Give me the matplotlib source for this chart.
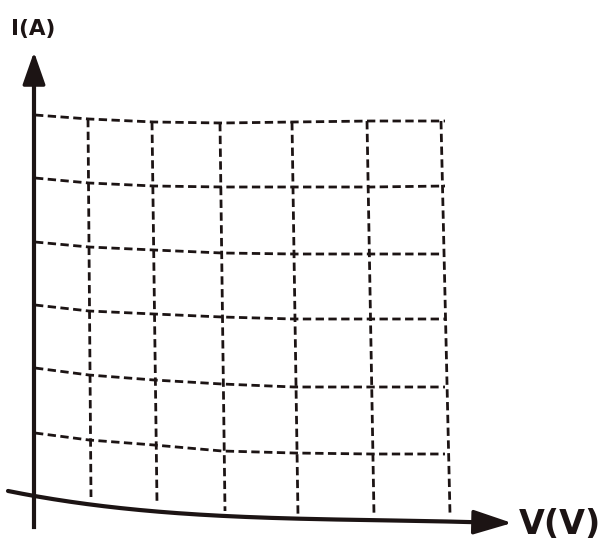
import numpy as np
import matplotlib
matplotlib.use('Agg')
import matplotlib.pyplot as plt

# picture-space coords (x right, y down)
row_x = [35, 89, 154, 222, 294, 371, 445]
row_y = [
    [115, 119, 122, 123, 122, 121, 121],
    [178, 183, 186, 187, 187, 187, 186],
    [242, 247, 250, 253, 254, 254, 254],
    [305, 311, 314, 317, 319, 319, 319],
    [368, 375, 380, 384, 387, 387, 387],
    [433, 440, 445, 451, 453, 454, 454],
]
col_x_top = [88, 152, 220, 292, 367, 441]
col_x_bot = [91, 157, 225, 298, 374, 450]
col_y_bot = [497, 503, 511, 516, 515, 514]

curve_x = [8, 35, 91, 157, 225, 298, 374, 450, 512]
curve_y = [490, 497, 505, 512, 515, 518, 521, 522, 523]

ink = '#1c1414'

fig = plt.figure(figsize=(6.07, 5.41), dpi=100)
ax = fig.add_axes([0, 0, 1, 1])
ax.set_xlim(0, 607)
ax.set_ylim(541, 0)
ax.axis('off')

dash = (0, (3, 1.6))

# horizontal dashed lines
for ys in row_y:
    ax.plot(row_x, ys, color=ink, lw=2.0, linestyle=dash)

# vertical dashed lines
for xt, xb, yb in zip(col_x_top, col_x_bot, col_y_bot):
    yt = np.interp(xt, row_x, row_y[0])
    ax.plot([xt, xb], [yt, yb], color=ink, lw=2.0, linestyle=dash)

# bottom curve = V axis (smoothed through the read points)
coef = np.polyfit(curve_x, curve_y, 3)
xs = np.linspace(curve_x[0], 485, 200)
ax.plot(xs, np.polyval(coef, xs), color=ink, lw=3.0, solid_capstyle='round')
ax.annotate('', xy=(curve_x[-1], curve_y[-1]), xytext=(478, np.polyval(coef, 478)),
            arrowprops=dict(arrowstyle='-|>,head_length=1.2,head_width=0.38',
                            mutation_scale=20, color=ink, lw=2.5,
                            shrinkA=0, shrinkB=0))

# I axis
ax.plot([34, 34], [527, 75], color=ink, lw=3.0)
ax.annotate('', xy=(34, 52), xytext=(34, 80),
            arrowprops=dict(arrowstyle='-|>,head_length=1.0,head_width=0.35',
                            mutation_scale=20, color=ink, lw=2.5,
                            shrinkA=0, shrinkB=0))

ax.text(11, 29, 'I(A)', fontsize=15.5, fontweight='bold', color=ink,
        ha='left', va='center')
ax.text(519, 524, 'V(V)', fontsize=24, fontweight='bold', color=ink,
        ha='left', va='center')

fig.savefig('out.png', dpi=100)
